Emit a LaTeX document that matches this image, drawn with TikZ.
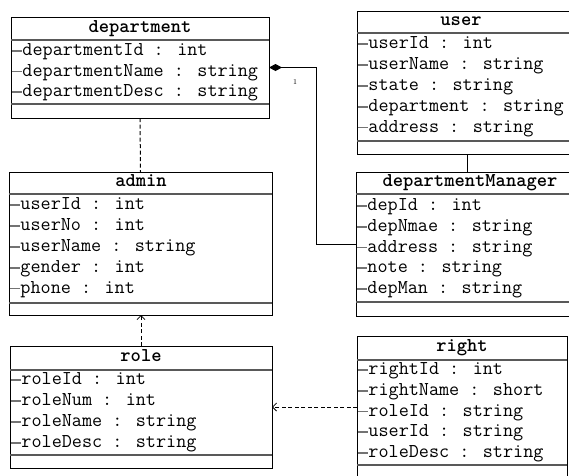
\documentclass[tikz,border=0pt]{standalone}
\usetikzlibrary{arrows.meta}
\newcommand{\attrf}{\fontsize{19.6}{20}\selectfont\ttfamily}
\newcommand{\mydash}{\makebox[0.525em][l]{\textcolor{black!55}{\rule[0.22em]{0.5em}{0.07em}}}}
\tikzset{
  cls/.style={draw, line width=1pt, inner sep=0pt, outer sep=0pt, anchor=north west},
  sepline/.style={line width=1.3pt, draw=black!65},
  attr/.style={anchor=west, inner sep=0pt, font=\attrf, text height=12pt, text depth=4.3pt},
  ttl/.style={inner sep=0pt, font=\attrf\bfseries, text height=12pt, text depth=4.3pt},
  conn/.style={line width=1pt},
  dconn/.style={line width=1pt, dash pattern=on 4pt off 2.5pt},
  openarr/.style={-{Straight Barb[length=4pt,width=8pt,line width=0.8pt]}},
}
\begin{document}
\begin{tikzpicture}[x=1pt,y=-1pt]
\useasboundingbox (0,0) rectangle (569,475);
\clip (0,0) rectangle (569,475);
\fill[white] (0,0) rectangle (569,475);

% department
\node[cls, minimum width=258pt, minimum height=101pt] (dep) at (11,17) {};
\draw[sepline] (11,40) -- (269,40);
\draw[sepline] (11,104) -- (269,104);
\node[ttl] (depT) at (140,28.5) {department};
\node[attr] (dep1) at (12,52) {\mydash departmentId : int};
\node[attr] (dep2) at (12,72.5) {\mydash departmentName : string};
\node[attr] (dep3) at (12,93) {\mydash departmentDesc : string};

% user
\node[cls, minimum width=220pt, minimum height=143pt] (user) at (357,11) {};
\draw[sepline] (357,33) -- (577,33);
\draw[sepline] (357,141) -- (577,141);
\node[ttl] (userT) at (461,22) {user};
\node[attr] (user1) at (358,45) {\mydash userId : int};
\node[attr] (user2) at (358,66) {\mydash userName : string};
\node[attr] (user3) at (358,87) {\mydash state : string};
\node[attr] (user4) at (358,108) {\mydash department : string};
\node[attr] (user5) at (358,128.5) {\mydash address : string};

% admin
\node[cls, minimum width=263pt, minimum height=143pt] (admin) at (9,172) {};
\draw[sepline] (9,194) -- (272,194);
\draw[sepline] (9,303) -- (272,303);
\node[ttl] (adminT) at (141,183) {admin};
\node[attr] (adm1) at (10,206) {\mydash userId : int};
\node[attr] (adm2) at (10,227) {\mydash userNo : int};
\node[attr] (adm3) at (10,248) {\mydash userName : string};
\node[attr] (adm4) at (10,269) {\mydash gender : int};
\node[attr] (adm5) at (10,289.5) {\mydash phone : int};

% departmentManager
\node[cls, minimum width=220pt, minimum height=144pt] (mgr) at (356,172) {};
\draw[sepline] (356,194) -- (576,194);
\draw[sepline] (356,302) -- (576,302);
\node[ttl] (mgrT) at (470,183) {departmentManager};
\node[attr] (mgr1) at (357,207) {\mydash depId : int};
\node[attr] (mgr2) at (357,228) {\mydash depNmae : string};
\node[attr] (mgr3) at (357,248.5) {\mydash address : string};
\node[attr] (mgr4) at (357,269) {\mydash note : string};
\node[attr] (mgr5) at (357,290) {\mydash depMan : string};

% role
\node[cls, minimum width=262pt, minimum height=122pt] (role) at (10,346) {};
\draw[sepline] (10,370) -- (272,370);
\draw[sepline] (10,455) -- (272,455);
\node[ttl] (roleT) at (141,357.5) {role};
\node[attr] (role1) at (11,381) {\mydash roleId : int};
\node[attr] (role2) at (11,402) {\mydash roleNum : int};
\node[attr] (role3) at (11,423) {\mydash roleName : string};
\node[attr] (role4) at (11,444) {\mydash roleDesc : string};

% right
\node[cls, minimum width=210pt, minimum height=142pt] (rgt) at (357,336) {};
\draw[sepline] (357,360) -- (567,360);
\draw[sepline] (357,465) -- (567,465);
\node[ttl] (rgtT) at (462,347.5) {right};
\node[attr] (rgt1) at (358,371) {\mydash rightId : int};
\node[attr] (rgt2) at (358,392) {\mydash rightName : short};
\node[attr] (rgt3) at (358,412.5) {\mydash roleId : string};
\node[attr] (rgt4) at (358,433) {\mydash userId : string};
\node[attr] (rgt5) at (358,454) {\mydash roleDesc : string};

% connectors
\draw[dconn] (dep.south) -- (admin.north);
\draw[conn, {Diamond[length=13pt,width=7pt]}-] (dep.east) -- ++(47,0) |- (mgr.west);
\node[inner sep=0pt, font=\fontsize{7.5}{8}\selectfont] (mult) at (295,82) {1};
\draw[conn] (user.south) -- (user.south |- mgr.north);
\draw[dconn, openarr] (role.north) -- (role.north |- admin.south);
\draw[dconn, openarr] (rgt.west) -- (rgt.west -| role.east);
\end{tikzpicture}
\end{document}
